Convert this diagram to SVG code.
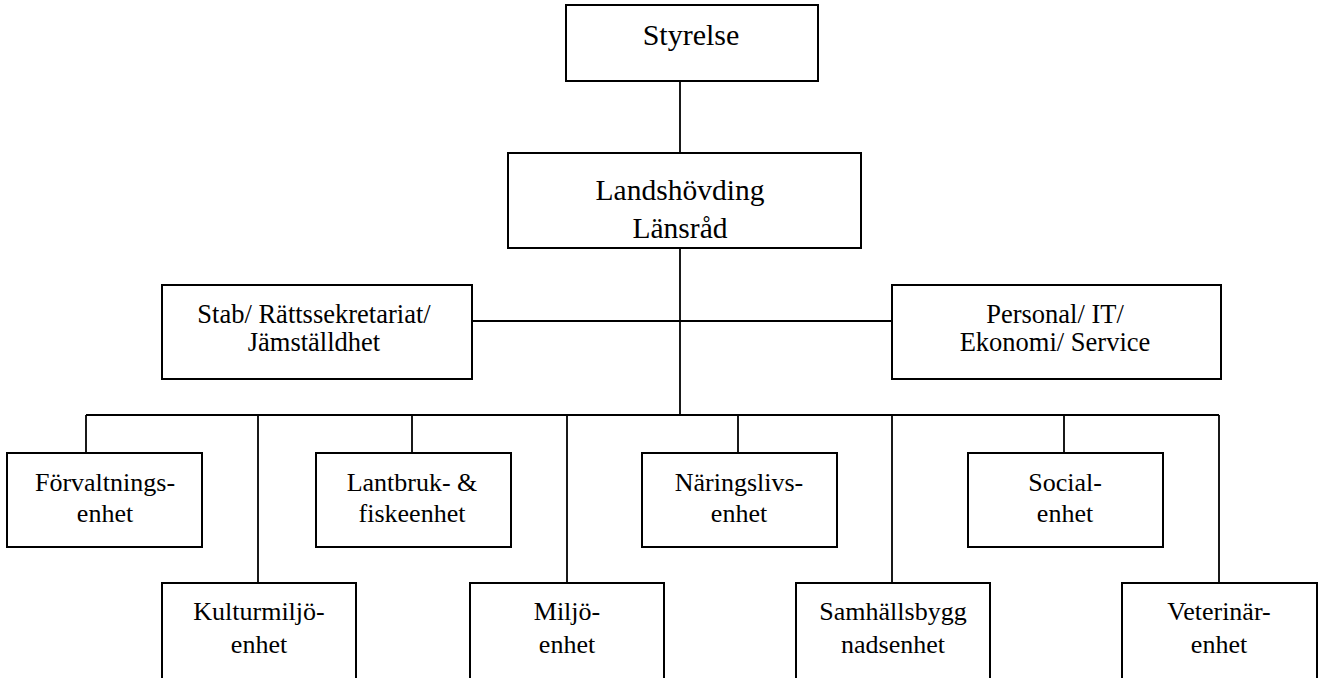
<svg xmlns="http://www.w3.org/2000/svg" width="1319" height="678" viewBox="0 0 1319 678">
<style>
rect{fill:#fff;stroke:#000;stroke-width:2}
.c line{stroke:#000;stroke-width:1.8}
text{fill:#000;text-anchor:middle}
.t1{font-size:30px}
.t2{font-size:29.5px}
.t3{font-size:26.5px}
.t4{font-size:26px}
</style>
<rect x="0" y="0" width="1319" height="678" style="stroke:none"/>
<g class="c" id="connectors">
<line x1="680" y1="81" x2="680" y2="153"/>
<line x1="680" y1="248" x2="680" y2="415"/>
<line x1="472" y1="321" x2="892" y2="321"/>
<line x1="86" y1="415" x2="1219" y2="415"/>
<line x1="86" y1="415" x2="86" y2="453"/>
<line x1="412" y1="415" x2="412" y2="453"/>
<line x1="738" y1="415" x2="738" y2="453"/>
<line x1="1064" y1="415" x2="1064" y2="453"/>
<line x1="258" y1="415" x2="258" y2="583"/>
<line x1="567" y1="415" x2="567" y2="583"/>
<line x1="892" y1="415" x2="892" y2="583"/>
<line x1="1219" y1="415" x2="1219" y2="583"/>
</g>
<g font-family="'Liberation Serif', 'Times New Roman', 'DejaVu Serif', serif">
<g id="styrelse"><rect x="566" y="5" width="252" height="76"/><text class="t1" x="691" y="45">Styrelse</text></g>
<g id="landshovding"><rect x="508" y="153" width="353" height="95"/><text class="t2" x="680" y="200">Landshövding</text><text class="t2" x="680" y="238">Länsråd</text></g>
<g id="stab"><rect x="162" y="285" width="310" height="94"/><text class="t3" x="314" y="323">Stab/ Rättssekretariat/</text><text class="t3" x="314" y="351">Jämställdhet</text></g>
<g id="personal"><rect x="892" y="285" width="329" height="94"/><text class="t3" x="1055" y="323">Personal/ IT/</text><text class="t3" x="1055" y="351">Ekonomi/ Service</text></g>
<g id="forvaltning"><rect x="7" y="453" width="195" height="94"/><text class="t4" x="105" y="491">Förvaltnings-</text><text class="t4" x="105" y="522">enhet</text></g>
<g id="lantbruk"><rect x="316" y="453" width="195" height="94"/><text class="t4" x="412" y="491">Lantbruk- &amp;</text><text class="t4" x="412" y="522">fiskeenhet</text></g>
<g id="naringsliv"><rect x="642" y="453" width="195" height="94"/><text class="t4" x="739" y="491">Näringslivs-</text><text class="t4" x="739" y="522">enhet</text></g>
<g id="social"><rect x="968" y="453" width="195" height="94"/><text class="t4" x="1065" y="491">Social-</text><text class="t4" x="1065" y="522">enhet</text></g>
<g id="kulturmiljo"><rect x="162" y="583" width="194" height="110"/><text class="t4" x="259" y="620">Kulturmiljö-</text><text class="t4" x="259" y="653">enhet</text></g>
<g id="miljo"><rect x="470" y="583" width="194" height="110"/><text class="t4" x="567" y="620">Miljö-</text><text class="t4" x="567" y="653">enhet</text></g>
<g id="samhallsbyggnad"><rect x="796" y="583" width="194" height="110"/><text class="t4" x="893" y="620">Samhällsbygg</text><text class="t4" x="893" y="653">nadsenhet</text></g>
<g id="veterinar"><rect x="1122" y="583" width="195" height="110"/><text class="t4" x="1219" y="620">Veterinär-</text><text class="t4" x="1219" y="653">enhet</text></g>
</g>
</svg>
